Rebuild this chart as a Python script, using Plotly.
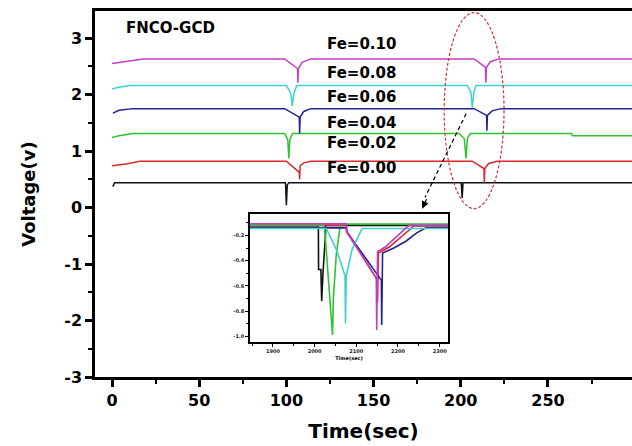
import plotly.graph_objects as go

# ---------------- main chart data (Time in sec, Voltage in V) ----------------
labels = ["Fe=0.00", "Fe=0.02", "Fe=0.04", "Fe=0.06", "Fe=0.08", "Fe=0.10"]
colors = ["#111111", "#d42a2a", "#2fc42f", "#23238f", "#3fd0d0", "#c43cc4"]

t_000 = [0.5, 1.5, 99.5, 100.0, 100.5, 101.5, 200.3, 200.8, 201.3, 300]
v_000 = [0.37, 0.44, 0.44, 0.04, 0.40, 0.44, 0.44, 0.17, 0.44, 0.44]

t_002 = [0.0, 3.0, 8.0, 16.0, 100.0, 107.4, 107.6, 107.9, 110.0, 114.0, 206.6, 213.3, 213.5, 213.8, 216.0, 220.8, 300]
v_002 = [0.74, 0.75, 0.77, 0.82, 0.82, 0.62, 0.50, 0.74, 0.79, 0.82, 0.82, 0.69, 0.44, 0.69, 0.78, 0.82, 0.82]

t_004 = [0.0, 4.0, 12.0, 99.0, 100.8, 101.4, 102.0, 103.5, 199.0, 202.0, 203.0, 203.8, 205.5, 263.6, 264.0, 300]
v_004 = [1.24, 1.27, 1.31, 1.31, 1.20, 0.87, 1.20, 1.31, 1.31, 1.22, 0.87, 1.22, 1.31, 1.31, 1.27, 1.27]

t_006 = [0.5, 4.0, 12.0, 99.0, 107.4, 107.6, 107.9, 110.0, 114.0, 207.7, 214.8, 215.0, 215.3, 218.0, 223.0, 300]
v_006 = [1.67, 1.72, 1.75, 1.75, 1.60, 1.31, 1.60, 1.70, 1.75, 1.75, 1.63, 1.36, 1.63, 1.71, 1.75, 1.75]

t_008 = [0.0, 4.0, 10.0, 100.0, 102.5, 103.4, 104.3, 106.0, 203.8, 205.8, 206.6, 207.5, 208.7, 300]
v_008 = [2.10, 2.13, 2.16, 2.16, 2.02, 1.80, 2.02, 2.16, 2.16, 2.04, 1.77, 2.04, 2.16, 2.16]

t_010 = [0.0, 6.0, 18.0, 99.0, 106.4, 106.6, 106.9, 109.0, 114.0, 207.7, 214.2, 214.4, 214.7, 217.0, 222.0, 300]
v_010 = [2.55, 2.58, 2.63, 2.63, 2.46, 2.21, 2.46, 2.57, 2.63, 2.63, 2.48, 2.21, 2.48, 2.58, 2.63, 2.63]

main_t = [t_000, t_002, t_004, t_006, t_008, t_010]
main_v = [v_000, v_002, v_004, v_006, v_008, v_010]

x_ticks = [0, 50, 100, 150, 200, 250]
y_ticks = [-3, -2, -1, 0, 1, 2, 3]

# ---------------- inset data (zoomed discharge region) ----------------
it_000 = [1845, 2009, 2009.5, 2015, 2017, 2020, 2026, 2027, 2320]
iv_000 = [-0.125, -0.125, -0.47, -0.47, -0.72, -0.50, -0.20, -0.12, -0.12]

it_002 = [1845, 2076, 2077, 2150, 2151, 2153, 2180, 2205, 2238, 2320]
iv_002 = [-0.12, -0.12, -0.17, -0.55, -0.73, -0.34, -0.29, -0.22, -0.125, -0.125]

it_004 = [1845, 2020, 2024, 2035, 2043, 2045, 2052, 2062, 2320]
iv_004 = [-0.12, -0.12, -0.14, -0.60, -0.99, -0.70, -0.35, -0.11, -0.11]

it_006 = [1845, 2076, 2077, 2160, 2161, 2163, 2190, 2219, 2245, 2267, 2320]
iv_006 = [-0.14, -0.14, -0.17, -0.555, -0.91, -0.34, -0.30, -0.246, -0.18, -0.14, -0.14]

it_008 = [1845, 2028, 2052, 2073, 2074, 2076, 2090, 2114, 2320]
iv_008 = [-0.145, -0.145, -0.31, -0.52, -0.90, -0.52, -0.31, -0.145, -0.145]

it_010 = [1845, 2076, 2077, 2148, 2149, 2151, 2170, 2195, 2226, 2320]
iv_010 = [-0.108, -0.108, -0.17, -0.54, -0.95, -0.33, -0.29, -0.215, -0.12, -0.12]

inset_t = [it_000, it_002, it_004, it_006, it_008, it_010]
inset_v = [iv_000, iv_002, iv_004, iv_006, iv_008, iv_010]

inset_x_ticks = [1900, 2000, 2100, 2200, 2300]
inset_y_ticks = [-0.2, -0.4, -0.6, -0.8, -1.0]

# ---------------- figure ----------------
W, H = 632, 446
L, R, T, B = 95, 0, 11, 69
PW, PH = W - L - R, H - T - B

def px(x):
    return (x - L) / PW

def py(y):
    return (H - B - y) / PH

def bold(vals, fmt="{}"):
    return ["<b>" + fmt.format(v) + "</b>" for v in vals]

fig = go.Figure()
for t, v, c, n in zip(main_t, main_v, colors, labels):
    fig.add_trace(go.Scatter(x=t, y=v, mode="lines", line=dict(color=c, width=1.5),
                             name=n, xaxis="x", yaxis="y", showlegend=False))
for t, v, c, n in zip(inset_t, inset_v, colors, labels):
    fig.add_trace(go.Scatter(x=t, y=v, mode="lines", line=dict(color=c, width=1.6),
                             name=n, xaxis="x2", yaxis="y2", showlegend=False))

font_main = "DejaVu Sans"
fig.update_layout(
    width=W, height=H,
    margin=dict(l=L, r=R, t=T, b=B, autoexpand=False),
    paper_bgcolor="white", plot_bgcolor="white",
    font=dict(family=font_main, color="black"),
    xaxis=dict(
        domain=[0, 1], range=[-9.75, 298.2], tickvals=x_ticks, ticktext=bold(x_ticks),
        showline=True, linewidth=2.5, linecolor="black", mirror=True,
        ticks="outside", ticklen=7, tickwidth=2.5, tickcolor="black",
        minor=dict(dtick=25, ticks="outside", ticklen=4, tickwidth=2, tickcolor="black"),
        showgrid=False, zeroline=False, automargin=False,
        tickfont=dict(size=16, family=font_main),
        title=dict(text="<b>Time(sec)</b>", font=dict(size=20), standoff=16),
    ),
    yaxis=dict(
        domain=[0, 1], range=[-3.0, 3.478], tickvals=y_ticks, ticktext=bold(y_ticks),
        showline=True, linewidth=2.5, linecolor="black",
        ticks="outside", ticklen=7, tickwidth=2.5, tickcolor="black",
        minor=dict(dtick=0.5, ticks="outside", ticklen=4, tickwidth=2, tickcolor="black"),
        showgrid=False, zeroline=False, automargin=False,
        tickfont=dict(size=16, family=font_main),
        title=dict(text="<b>Voltage(v)</b>", font=dict(size=18), standoff=24),
    ),
    xaxis2=dict(
        domain=[px(250), px(448)], anchor="y2", range=[1845, 2320], tickvals=inset_x_ticks,
        ticktext=bold(inset_x_ticks),
        showline=True, linewidth=1.5, linecolor="black", mirror=True,
        ticks="outside", ticklen=3, tickwidth=1.2, tickcolor="black",
        minor=dict(dtick=50, ticks="outside", ticklen=2, tickcolor="black"),
        showgrid=False, zeroline=False, automargin=False,
        tickfont=dict(size=5, color="#222"),
        title=dict(text="<b>Time(sec)</b>", font=dict(size=5), standoff=4),
    ),
    yaxis2=dict(
        domain=[py(342), py(214)], anchor="x2", range=[-1.046, -0.03], tickvals=inset_y_ticks,
        ticktext=bold(inset_y_ticks, "{:.1f}"),
        showline=True, linewidth=1.5, linecolor="black", mirror=True,
        ticks="outside", ticklen=3, tickwidth=1.2, tickcolor="black",
        minor=dict(dtick=0.1, ticks="outside", ticklen=2, tickcolor="black"),
        showgrid=False, zeroline=False, automargin=False,
        tickfont=dict(size=5, color="#222"),
    ),
)

# series labels
label_y_px = [168, 143, 123, 97, 73, 44]
for n, yy in zip(labels, label_y_px):
    fig.add_annotation(xref="paper", yref="paper", x=px(361), y=py(yy), text="<b>" + n + "</b>",
                       showarrow=False, font=dict(size=15, color="black"), xanchor="center", yanchor="middle")

fig.add_annotation(xref="paper", yref="paper", x=px(170), y=py(28), text="<b>FNCO-GCD</b>",
                   showarrow=False, font=dict(size=15, color="black"), xanchor="center", yanchor="middle")

# red ellipse around the second discharge region
fig.add_shape(type="circle", xref="x", yref="y", x0=190.5, x1=224.8, y0=-0.02, y1=3.45,
              line=dict(color="#d03030", width=1.2, dash="3px,2px"))

# dashed arrow to inset
fig.add_shape(type="line", xref="x", yref="y", x0=203.1, y0=1.66, x1=179.5, y1=0.18,
              line=dict(color="black", width=1.2, dash="4px,3px"))
fig.add_annotation(xref="x", yref="y", x=177.9, y=-0.02, ax=5, ay=-11, text="",
                   showarrow=True, arrowhead=2, arrowsize=1.2, arrowwidth=1.2, arrowcolor="black")

fig.write_html("out.html", config={"displayModeBar": False},
               post_script="document.body.style.margin='0';document.body.style.padding='0';")
